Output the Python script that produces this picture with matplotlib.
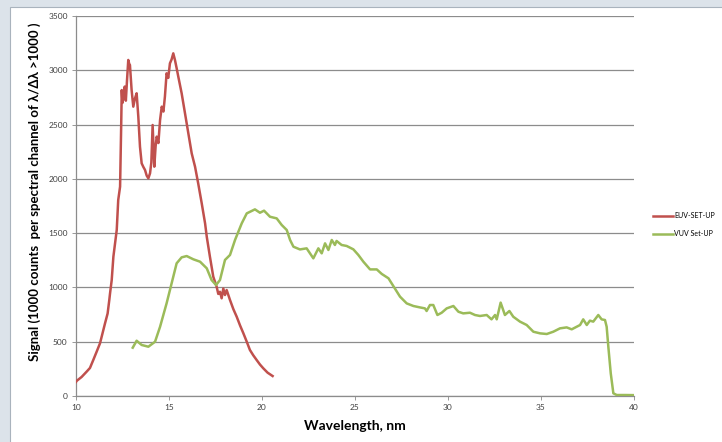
import matplotlib.pyplot as plt
from matplotlib.patches import Rectangle

# EUV set-up spectrum (wavelength in nm, signal)
euv_wl = [10.0, 10.04, 10.3, 10.57, 10.75, 10.93, 11.11, 11.29, 11.38, 11.56, 11.7,
          11.79, 11.83, 11.92, 12.01, 12.19, 12.27, 12.37, 12.43, 12.46, 12.5, 12.55,
          12.62, 12.68, 12.74, 12.81, 12.86, 12.9, 12.99, 13.08, 13.17, 13.26, 13.35,
          13.44, 13.53, 13.62, 13.71, 13.8, 13.89, 13.98, 14.05, 14.12, 14.21, 14.28,
          14.34, 14.43, 14.52, 14.61, 14.7, 14.78, 14.87, 14.96, 15.05, 15.14, 15.23,
          15.32, 15.41, 15.5, 15.68, 15.86, 16.04, 16.22, 16.4, 16.57, 16.76, 16.94,
          17.03, 17.2, 17.38, 17.56, 17.65, 17.74, 17.83, 17.92, 18.01, 18.1, 18.28,
          18.46, 18.64, 18.82, 19.0, 19.18, 19.35, 19.53, 19.71, 19.89, 20.07, 20.3,
          20.57]
euv_sig = [130, 140, 175, 224, 258, 332, 408, 485, 546, 669, 760,
           884, 945, 1068, 1283, 1529, 1805, 1928, 2500, 2818, 2700, 2757,
           2850, 2720, 2900, 3095, 3060, 3049, 2818, 2665, 2740, 2788, 2573,
           2296, 2143, 2110, 2082, 2030, 2005, 2051, 2150, 2496, 2112, 2300,
           2389, 2330, 2542, 2665, 2620, 2757, 2972, 2930, 3064, 3100, 3156,
           3095, 3020, 2941, 2788, 2604, 2419, 2235, 2112, 1958, 1774, 1590,
           1467, 1283, 1099, 1007, 940, 960, 900, 990, 930, 976, 884,
           800, 730, 650, 577, 500, 424, 375, 332, 290, 255, 215,
           184]

# VUV set-up spectrum (wavelength in nm, signal)
vuv_wl = [13.05, 13.26, 13.53, 13.89, 14.25, 14.52, 14.87, 15.14, 15.41, 15.68,
          15.95, 16.31, 16.67, 17.03, 17.29, 17.53, 17.74, 18.01, 18.28, 18.55,
          18.91, 19.18, 19.62, 19.89, 20.11, 20.43, 20.79, 21.06, 21.33, 21.51,
          21.69, 22.04, 22.4, 22.76, 23.03, 23.21, 23.39, 23.57, 23.75, 23.92,
          24.01, 24.28, 24.55, 24.91, 25.18, 25.45, 25.81, 26.17, 26.44, 26.8,
          27.06, 27.42, 27.78, 28.14, 28.49, 28.76, 28.85, 29.03, 29.21, 29.43,
          29.66, 29.93, 30.29, 30.56, 30.82, 31.18, 31.45, 31.72, 32.08, 32.34,
          32.53, 32.62, 32.83, 33.06, 33.3, 33.51, 33.87, 34.23, 34.59, 34.95,
          35.31, 35.66, 36.02, 36.38, 36.65, 36.92, 37.1, 37.27, 37.46, 37.63,
          37.81, 38.08, 38.26, 38.44, 38.53, 38.62, 38.75, 38.89, 39.07, 39.5,
          40.0]
vuv_sig = [445, 509, 470, 454, 500, 638, 853, 1037, 1222, 1277,
           1289, 1259, 1237, 1176, 1068, 1022, 1068, 1253, 1299, 1437,
           1590, 1682, 1719, 1688, 1707, 1651, 1636, 1575, 1529, 1437,
           1375, 1350, 1360, 1268, 1360, 1314, 1406, 1345, 1437, 1391,
           1428, 1391, 1382, 1351, 1299, 1237, 1166, 1166, 1124, 1084,
           1013, 915, 853, 829, 816, 807, 783, 838, 838, 746,
           767, 807, 829, 776, 761, 767, 746, 737, 746, 706,
           746, 706, 860, 746, 783, 730, 685, 654, 592, 577,
           571, 592, 623, 632, 614, 638, 654, 706, 654, 694,
           685, 746, 706, 700, 638, 454, 209, 25, 9, 9,
           8]

x_ticks = [10, 15, 20, 25, 30, 35, 40]
y_ticks = [0, 500, 1000, 1500, 2000, 2500, 3000, 3500]

plt.rcParams['font.family'] = ['Lato', 'DejaVu Sans']

fig = plt.figure(figsize=(7.22, 4.42), dpi=100, facecolor='#dce3ea')
# white chart panel behind the axes
fig.patches.append(Rectangle((10 / 722, -0.01), 1.0, 1 - 7 / 442 + 0.01,
                             transform=fig.transFigure, facecolor='white',
                             edgecolor='#a9b3bd', linewidth=0.8, zorder=-5))

ax = fig.add_axes([76 / 722, 1 - 396 / 442, 558 / 722, 380 / 442])
ax.set_facecolor('none')

ax.plot(euv_wl, euv_sig, color='#c0504d', lw=1.8, label='EUV-SET-UP', zorder=3)
ax.plot(vuv_wl, vuv_sig, color='#9bbb59', lw=1.8, label='VUV Set-UP', zorder=3)

ax.set_xlim(10, 40)
ax.set_ylim(0, 3500)
ax.set_xticks(x_ticks)
ax.set_yticks(y_ticks)
ax.tick_params(labelsize=6, colors='#404040', length=3, width=0.6, pad=3)
ax.tick_params(axis='both', color='#888888')
ax.yaxis.grid(True, color='#8c8c8c', lw=0.9)
ax.set_axisbelow(True)
for side in ['top', 'right']:
    ax.spines[side].set_visible(False)
for side in ['left', 'bottom']:
    ax.spines[side].set_color('#8c8c8c')
    ax.spines[side].set_linewidth(0.9)

ax.set_xlabel('Wavelength, nm', fontsize=10, fontweight='bold', labelpad=6)
ax.set_ylabel('Signal (1000 counts  per spectral channel of λ/Δλ >1000 )',
              fontsize=9.5, fontweight='bold')
ax.yaxis.set_label_coords(-0.062, 0.538)

ax.legend(loc='center left', bbox_to_anchor=(1.034, 0.451), frameon=False,
          fontsize=5, handlelength=2.9, handletextpad=0.2, labelspacing=1.6,
          borderaxespad=0, borderpad=0)

fig.savefig('out.png', dpi=100, facecolor=fig.get_facecolor())
